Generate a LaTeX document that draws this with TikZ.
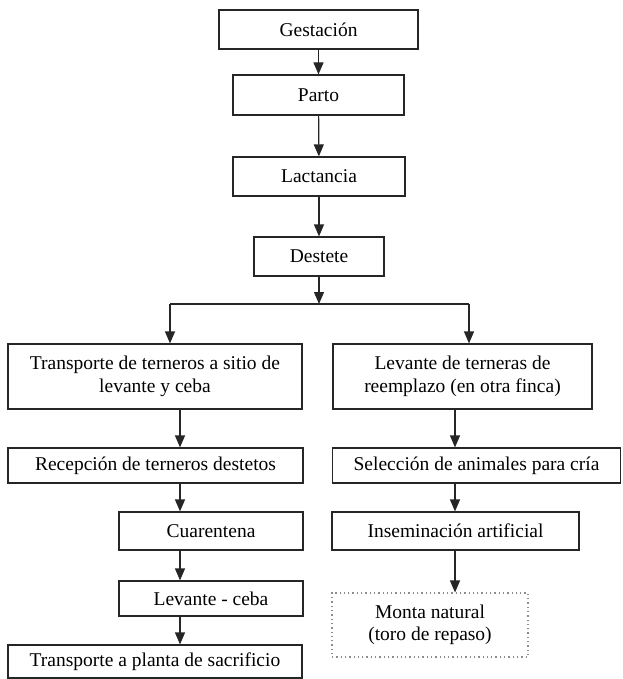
\documentclass[tikz,border=0pt]{standalone}
\usepackage{fontspec}
\setmainfont{Liberation Serif}
\usetikzlibrary{arrows.meta}
\tikzset{
  box/.style={draw=black!85, line width=1.2pt, rectangle, inner sep=0pt, align=center,
    font=\fontsize{19.5}{22.5}\selectfont, fill=white},
  dotbox/.style={draw=black!45, line width=1.1pt, dash pattern=on 1.3pt off 3pt, rectangle,
    inner sep=0pt, align=center, font=\fontsize{19.5}{22.5}\selectfont},
  arr/.style={line width=1.2pt, draw=black!85, -{Triangle[length=12pt,width=10pt]}},
  ln/.style={line width=1.2pt, draw=black!85}
}
\begin{document}
\begin{tikzpicture}[x=1pt,y=-1pt]
\useasboundingbox (0,0) rectangle (622,679);
\fill[white] (0,0) rectangle (622,679);
% top chain
\node[box, minimum width=199pt, minimum height=39pt] (g) at (318.5,29.5) {Gestación};
\node[box, minimum width=171pt, minimum height=40pt] (p) at (318.5,95) {Parto};
\node[box, minimum width=172pt, minimum height=39pt] (l) at (319,176.5) {Lactancia};
\node[box, minimum width=130pt, minimum height=39pt] (d) at (319,256.5) {Destete};
% left column
\node[box, minimum width=294pt, minimum height=65pt] (t1) at (155,376.5) {Transporte de terneros a sitio de\\levante y ceba};
\node[box, minimum width=295pt, minimum height=35pt] (t2) at (155.5,465.5) {Recepción de terneros destetos};
\node[box, minimum width=184pt, minimum height=38pt] (t3) at (211,531) {Cuarentena};
\node[box, minimum width=184pt, minimum height=35pt] (t4) at (211,598.5) {Levante - ceba};
\node[box, minimum width=294pt, minimum height=33pt] (t5) at (155,661.5) {Transporte a planta de sacrificio};
% right column
\node[box, minimum width=259pt, minimum height=65pt] (r1) at (462.5,376.5) {Levante de terneras de\\reemplazo (en otra finca)};
\node[box, minimum width=288pt, minimum height=35pt] (r2) at (476.5,465.5) {Selección de animales para cría};
\node[box, minimum width=247pt, minimum height=38pt] (r3) at (455.5,531) {Inseminación artificial};
\node[dotbox, minimum width=196pt, minimum height=64pt] (r4) at (430,625) {Monta natural\\(toro de repaso)};
% coordinates
\coordinate (bm) at (319,304);
\coordinate (bl) at (170,304);
\coordinate (br) at (469,304);
\coordinate (lc) at (180,0);
\coordinate (rc) at (455,0);
% connectors
\draw[arr] (g) -- (p);
\draw[arr] (p) -- (l);
\draw[arr] (l) -- (d);
\draw[arr] (d) -- (bm);
\draw[ln] (bl) -- (br);
\draw[arr] (bl) -- (bl |- t1.north);
\draw[arr] (br) -- (br |- r1.north);
\draw[arr] (t1.south -| lc) -- (t2.north -| lc);
\draw[arr] (t2.south -| lc) -- (t3.north -| lc);
\draw[arr] (t3.south -| lc) -- (t4.north -| lc);
\draw[arr] (t4.south -| lc) -- (t5.north -| lc);
\draw[arr] (r1.south -| rc) -- (r2.north -| rc);
\draw[arr] (r2.south -| rc) -- (r3.north -| rc);
\draw[arr] (r3.south -| rc) -- (r4.north -| rc);
\end{tikzpicture}
\end{document}
